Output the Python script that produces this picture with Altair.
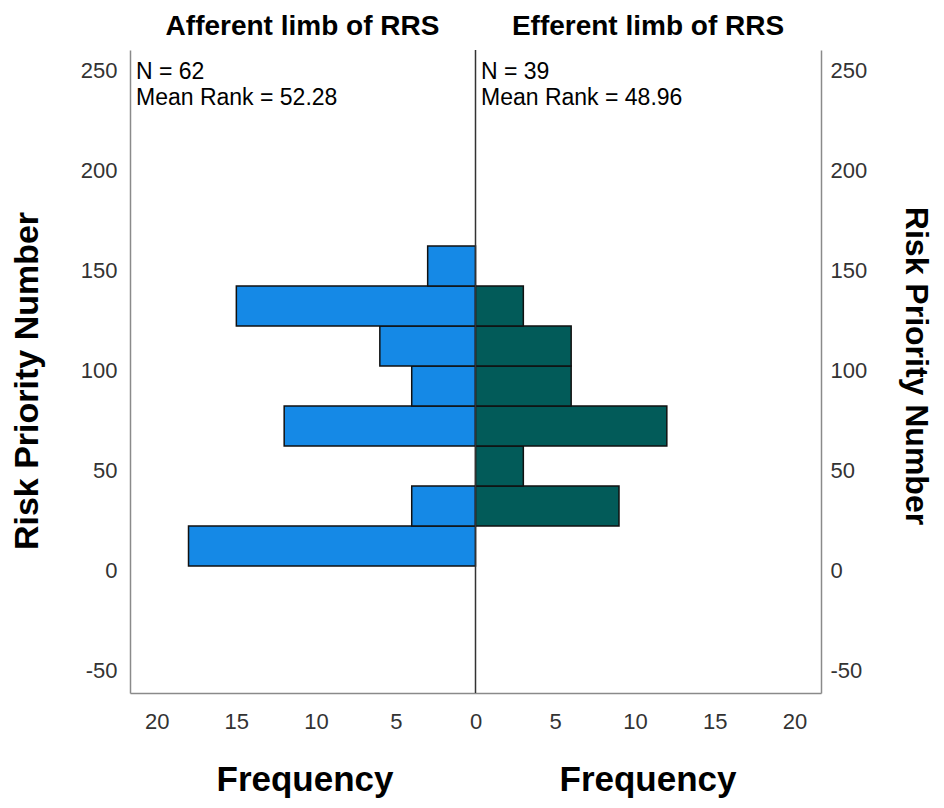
import altair as alt
import pandas as pd

# Histogram bins of Risk Priority Number (bin edges) and frequencies
bin_start = [2, 22, 42, 62, 82, 102, 122, 142]
bin_end = [22, 42, 62, 82, 102, 122, 142, 162]
afferent_freq = [18, 4, 0, 12, 4, 6, 15, 3]
efferent_freq = [0, 9, 3, 12, 6, 6, 3, 0]

group_titles = ["Afferent limb of RRS", "Efferent limb of RRS"]
group_n = ["N = 62", "N = 39"]
group_rank = ["Mean Rank = 52.28", "Mean Rank = 48.96"]
y_ticks = [-50, 0, 50, 100, 150, 200, 250]
x_ticks = [-20, -15, -10, -5, 0, 5, 10, 15, 20]

FONT = "Liberation Sans"
W, H = 691, 643

aff = pd.DataFrame({"start": bin_start, "end": bin_end, "freq": afferent_freq})
aff = aff[aff.freq > 0]
eff = pd.DataFrame({"start": bin_start, "end": bin_end, "freq": efferent_freq})
eff = eff[eff.freq > 0]

xscale = alt.Scale(domain=[-21.67, 21.67], nice=False, zero=False)
yscale = alt.Scale(domain=[-61.5, 260], nice=False, zero=False)

xaxis = alt.Axis(values=x_ticks, labelExpr="toString(abs(datum.value))", title=None,
                 ticks=False, grid=False, labelPadding=18, orient="bottom",
                 domainColor="#8a8a8a", domainWidth=1.5)

def yaxis(orient, pad):
    return alt.Axis(values=y_ticks, orient=orient, title=None, ticks=False,
                    grid=False, labelPadding=pad, labelExpr="toString(datum.value)",
                    domainColor="#8a8a8a", domainWidth=1.5)

left = alt.Chart(aff).transform_calculate(neg="-datum.freq").mark_bar(
    color="#1589E6", stroke="#111111", strokeWidth=1.5
).encode(
    x=alt.X("neg:Q", scale=xscale, axis=xaxis),
    x2=alt.datum(0),
    y=alt.Y("start:Q", scale=yscale, axis=yaxis("left", 13)),
    y2="end:Q",
)

right = alt.Chart(eff).mark_bar(
    color="#025B59", stroke="#111111", strokeWidth=1.5
).encode(
    x=alt.X("freq:Q", scale=xscale, axis=xaxis),
    x2=alt.datum(0),
    y=alt.Y("start:Q", scale=yscale, axis=yaxis("right", 9)),
    y2="end:Q",
)

center = alt.Chart(pd.DataFrame({"v": [0]})).mark_rule(color="#333333", strokeWidth=1.5).encode(
    x=alt.X("v:Q", scale=xscale, axis=xaxis),
    y=alt.value(0),
    y2=alt.value(H),
)

def txt(text, x, y, size, bold=False, align="left", angle=0):
    return alt.Chart(pd.DataFrame({"t": [text]})).mark_text(
        font=FONT, fontSize=size, fontWeight="bold" if bold else "normal",
        align=align, baseline="alphabetic", angle=angle, color="#000000"
    ).encode(text="t:N", x=alt.value(x), y=alt.value(y))

annots = [
    txt(group_n[0], 6, 29, 23),
    txt(group_rank[0], 6, 55, 23),
    txt(group_n[1], 351, 29, 23),
    txt(group_rank[1], 351, 55, 23),
    txt(group_titles[0], 172.5, -15, 28, bold=True, align="center"),
    txt(group_titles[1], 518, -15, 28, bold=True, align="center"),
    txt("Frequency", 175, 741, 35, bold=True, align="center"),
    txt("Frequency", 518, 741, 35, bold=True, align="center"),
    txt("Risk Priority Number", -92, 331, 34, bold=True, align="center", angle=270),
    txt("Risk Priority Number", 776, 316, 32, bold=True, align="center", angle=90),
]

chart = alt.layer(left, right, center, *annots).resolve_axis(y="independent").properties(
    width=W, height=H,
    autosize=alt.AutoSizeParams(type="none"),
    padding={"left": 122, "top": 42, "right": 115, "bottom": 107},
).configure_view(stroke=None).configure_axis(
    labelFont=FONT, labelFontSize=22, labelColor="#333333"
)

chart.save("out.html", embed_options={"renderer": "svg", "actions": False})
